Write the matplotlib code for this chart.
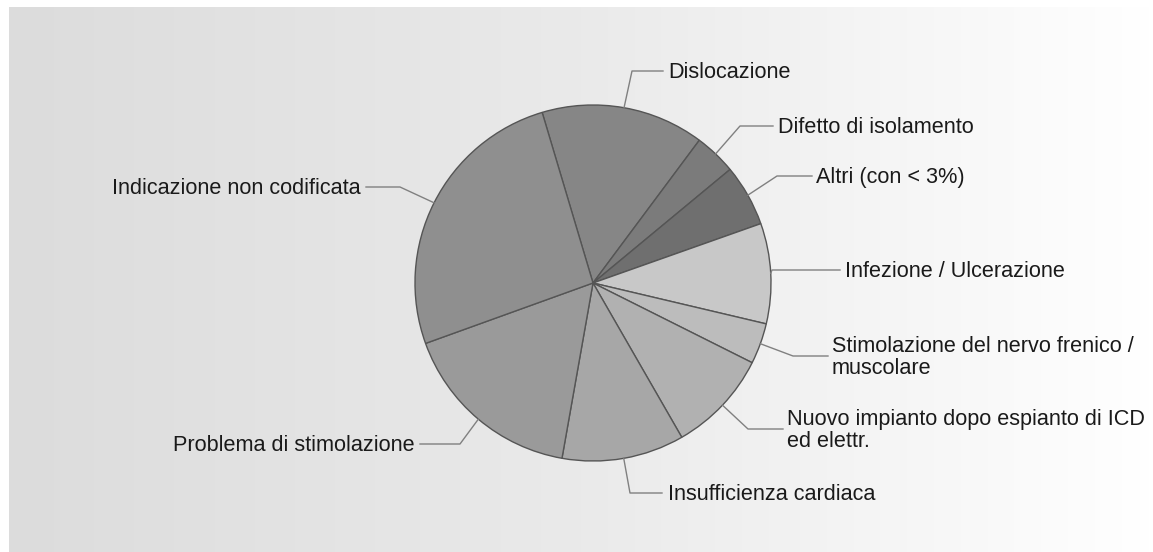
import numpy as np
import matplotlib
matplotlib.use("Agg")
import matplotlib.pyplot as plt

plt.rcParams['font.family'] = ['Liberation Sans', 'DejaVu Sans']

labels = ['Dislocazione', 'Difetto di isolamento', 'Altri (con < 3%)',
          'Infezione / Ulcerazione', 'Stimolazione del nervo frenico /\nmuscolare',
          'Nuovo impianto dopo espianto di ICD\ned elettr.', 'Insufficienza cardiaca',
          'Problema di stimolazione', 'Indicazione non codificata']
values = [14.8, 3.8, 5.6, 9.1, 3.7, 9.3, 11.1, 16.7, 25.9]
colors = ['#868686', '#7b7b7b', '#6f6f6f', '#c8c8c8', '#bcbcbc',
          '#b1b1b1', '#a7a7a7', '#9a9a9a', '#8f8f8f']

# label layout in pixels: elbow x, elbow y, line end x, text x, alignment
elbow_x = [632, 740, 777, 772, 793, 748, 630, 460, 400]
label_y = [71, 126, 176, 270, 356, 429, 493, 444, 187]
end_x = [663, 773, 812, 840, 828, 783, 662, 420, 366]
text_x = [668, 778, 816, 845, 832, 787, 668, 415, 361]
align = ['left'] * 7 + ['right'] * 2

W, H = 1153, 552
fig = plt.figure(figsize=(W / 100, H / 100), dpi=100)
fig.patch.set_facecolor('white')

# background gradient panel
bg = fig.add_axes([9 / W, 0, 1 - 9 / W, (H - 7) / H])
grad = np.linspace(0, 1, 256).reshape(1, -1)
bg.imshow(grad, aspect='auto', cmap=matplotlib.colors.LinearSegmentedColormap.from_list(
    'g', ['#dcdcdc', '#eaeaea', '#ffffff']), extent=[0, 1, 0, 1])
bg.axis('off')

cx, cy, r = 593, 283, 178
ax = fig.add_axes([(cx - r) / W, (H - cy - r) / H, 2 * r / W, 2 * r / H])

wedges, _ = ax.pie(values, colors=colors, startangle=106.6, counterclock=False,
                   radius=1, wedgeprops=dict(edgecolor='#555555', linewidth=1))
ax.set_xlim(-1, 1)
ax.set_ylim(-1, 1)
ax.set_aspect('equal')
ax.axis('off')


def to_data(px, py):
    return (px - cx) / r, (cy - py) / r


for w, lab, ex, ly, xe, tx, al in zip(wedges, labels, elbow_x, label_y, end_x, text_x, align):
    w.set_clip_on(False)
    ang = np.deg2rad((w.theta1 + w.theta2) / 2)
    sx, sy = np.cos(ang), np.sin(ang)
    e = to_data(ex, ly)
    f = to_data(xe, ly)
    t = to_data(tx, ly + 1.5)
    ax.plot([sx, e[0], f[0]], [sy, e[1], f[1]], color='#808080', lw=1, clip_on=False)
    ax.text(t[0], t[1], lab, ha=al, va='center', fontsize=15.6, color='#1a1a1a',
            linespacing=1.1, clip_on=False)

fig.savefig('out.png', dpi=100)
